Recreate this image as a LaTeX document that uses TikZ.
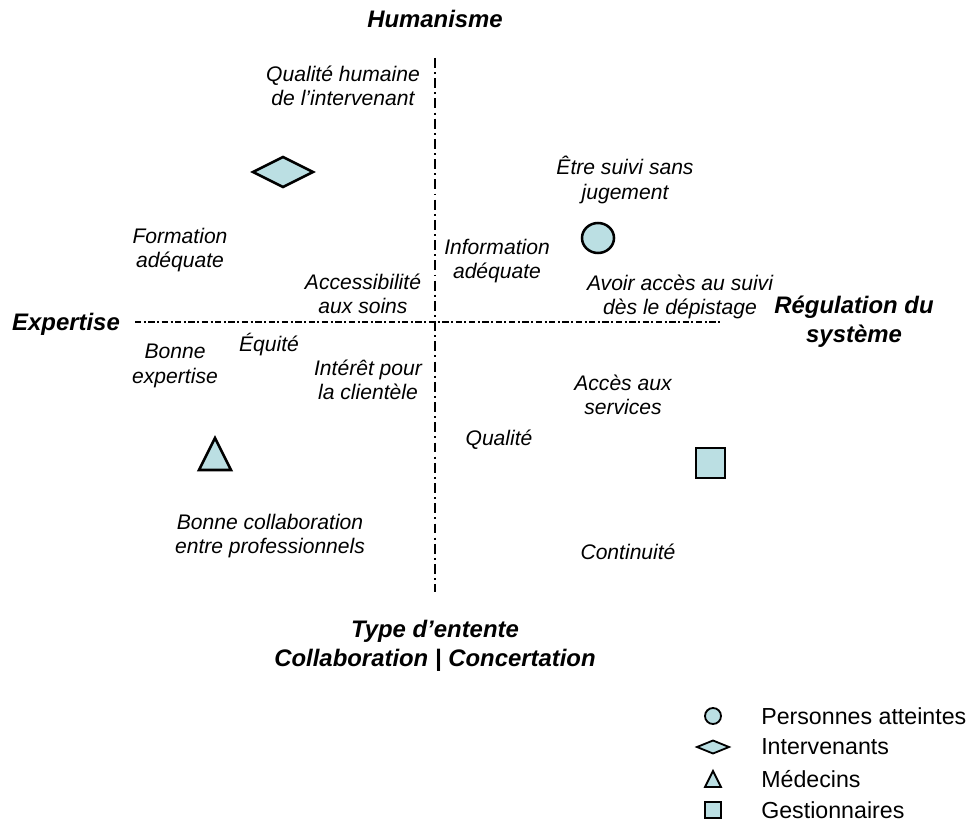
\documentclass[tikz,border=0pt]{standalone}
\usepackage{fontspec}
\setmainfont{Liberation Sans}
\definecolor{markfill}{RGB}{187,223,227}
\tikzset{
  lbl/.style={font=\fontsize{15}{17.5}\selectfont\itshape, align=center, inner sep=0pt},
  axlbl/.style={font=\fontsize{17}{20.5}\selectfont\bfseries\itshape, align=center, inner sep=0pt},
  legtxt/.style={font=\fontsize{16.5}{19}\selectfont, anchor=west, inner sep=0pt},
  vaxis/.style={line width=1.7pt, dash pattern=on 7pt off 3pt on 1.4pt off 3pt},
  haxis/.style={line width=1.4pt, dash pattern=on 4.5pt off 1.8pt on 1.4pt off 1.8pt},
  marker/.style={draw=black, fill=markfill, line width=1.8pt, line join=miter},
  legmark/.style={draw=black, fill=markfill, line width=1.3pt, line join=miter}
}
\begin{document}
\begin{tikzpicture}[x=0.25mm,y=-0.25mm]
\useasboundingbox (0,0) rectangle (972,825);

% -- axes
\coordinate (vtop) at (435,58);
\coordinate (vbot) at (435,592);
\coordinate (hleft) at (135,322);
\coordinate (hright) at (722,322);
\draw[vaxis] (vtop) -- (vbot);
\draw[haxis] (hleft) -- (hright);

\node [axlbl] (human) at (435,19) {Humanisme};
\node [axlbl] (expert) at (66,324) {Expertise};
\node [axlbl] (regul) at (854,322) {Régulation du\\système};
\node [axlbl] (entente) at (435,646) {Type d’entente\\Collaboration | Concertation};

% -- upper left
\node [lbl] (qualhum) at (343,86) {Qualité humaine\\de l’intervenant};
\node [lbl] (formation) at (180,250) {Formation\\adéquate};
\node [lbl] (access) at (363,294) {Accessibilité\\aux soins};

% -- upper right
\node [lbl] (suivi) at (625,180) {Être suivi sans\\jugement};
\node [lbl] (info) at (497,261) {Information\\adéquate};
\node [lbl] (avoir) at (680,297) {Avoir accès au suivi\\dès le dépistage};

% -- lower left
\node [lbl] (bonexp) at (175,366) {Bonne\\expertise};
\node [lbl] (equite) at (269,345) {Équité};
\node [lbl] (interet) at (368,380) {Intérêt pour\\la clientèle};
\node [lbl] (collab) at (270,536) {Bonne collaboration\\entre professionnels};

% -- lower right
\node [lbl] (accserv) at (623,395) {Accès aux\\services};
\node [lbl] (qualite) at (499,440) {Qualité};
\node [lbl] (contin) at (628,552) {Continuité};

% -- markers
\draw[marker] (253,172) -- (283,157) -- (313,172) -- (283,187) -- cycle;
\draw[marker] (598,238) ellipse (16 and 15);
\draw[marker] (215,438) -- (231,470) -- (199,470) -- cycle;
\draw[marker] (696,448) rectangle (725,478);

% -- legend
\draw[legmark] (713,716) circle (8);
\draw[legmark] (697,747) -- (713,740.5) -- (729,747) -- (713,753.5) -- cycle;
\draw[legmark] (713,771) -- (721,787) -- (705,787) -- cycle;
\draw[legmark] (705,802) rectangle (721,818);

\node [legtxt] (lpers) at (761,716) {Personnes atteintes};
\node [legtxt] (linterv) at (761,747) {Intervenants};
\node [legtxt] (lmed) at (761,779) {Médecins};
\node [legtxt] (lgest) at (761,810) {Gestionnaires};
\end{tikzpicture}
\end{document}
